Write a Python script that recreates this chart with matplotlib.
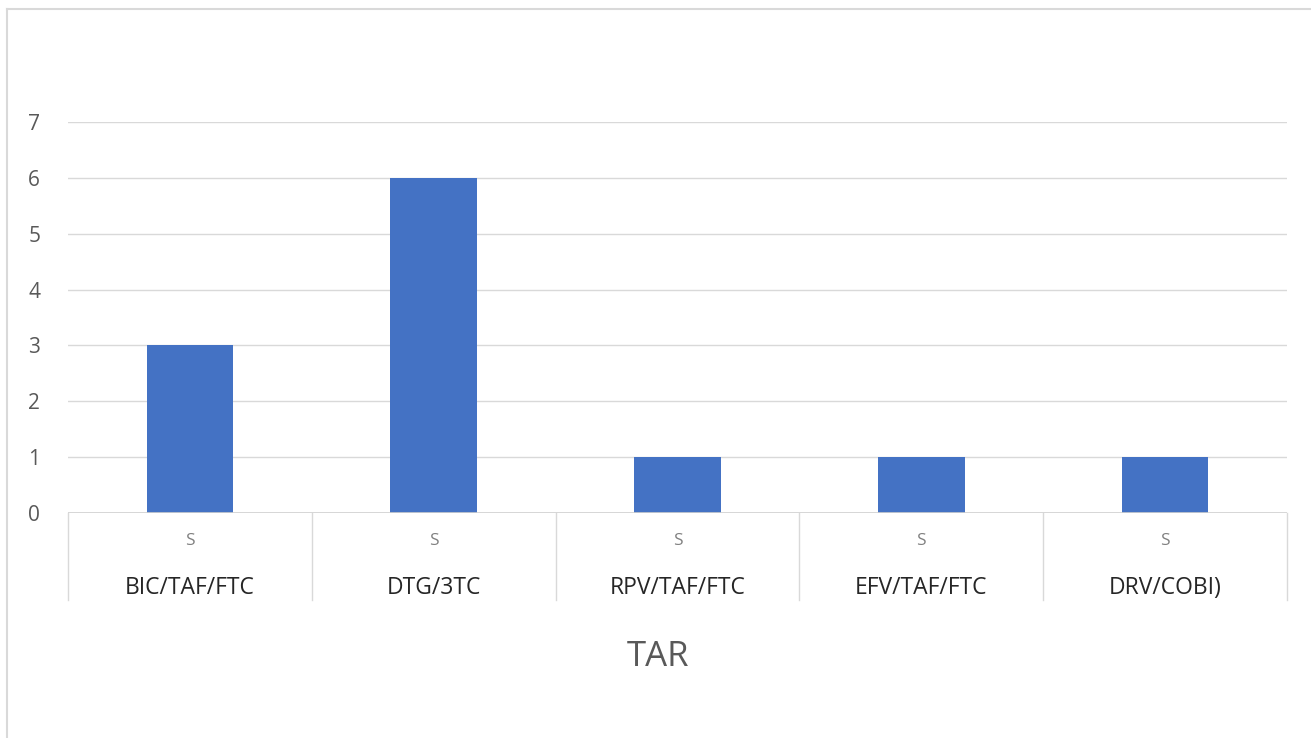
import matplotlib.pyplot as plt
import matplotlib.transforms as mtransforms
from matplotlib.lines import Line2D

# chart data
categories = ['BIC/TAF/FTC', 'DTG/3TC', 'RPV/TAF/FTC', 'EFV/TAF/FTC', 'DRV/COBI)']
sub_labels = ['S', 'S', 'S', 'S', 'S']
values = [3, 6, 1, 1, 1]
y_ticks = [0, 1, 2, 3, 4, 5, 6, 7]
axis_title = 'TAR'

W, H = 1311, 738
plt.rcParams['font.family'] = ['Open Sans', 'DejaVu Sans']

fig = plt.figure(figsize=(W / 100, H / 100), dpi=100)
fig.patch.set_facecolor('white')

# outer frame (only top and left edges show in the reference)
fig.add_artist(Line2D([7 / W, 7 / W], [0, 1 - 9 / H], color='#d9d9d9', lw=1.5))
fig.add_artist(Line2D([7 / W, 1], [1 - 9 / H, 1 - 9 / H], color='#d9d9d9', lw=1.5))

left, right = 68 / W, 1287 / W
bottom, top = 1 - 513 / H, 1 - 122 / H
ax = fig.add_axes([left, bottom, right - left, top - bottom])

x = list(range(len(categories)))
ax.bar(x, values, width=0.355, color='#4472c4', zorder=3)

ax.set_xlim(-0.5, len(categories) - 0.5)
ax.set_ylim(0, 7)
ax.set_yticks(y_ticks)
ax.set_yticklabels([str(t) for t in y_ticks])
ax.tick_params(axis='y', length=0, pad=20, labelsize=15, labelcolor='#595959')
ax.set_xticks([])

for t in y_ticks[1:]:
    ax.axhline(t, color='#d9d9d9', lw=1, zorder=1)
ax.axhline(0, color='#d0d0d0', lw=1.2, zorder=4)

for s in ax.spines.values():
    s.set_visible(False)

# two-level category axis below the plot
trans = mtransforms.blended_transform_factory(ax.transData, ax.transAxes)
sep_bottom = -87 / 391
for i in range(len(categories) + 1):
    ax.add_line(Line2D([i - 0.5, i - 0.5], [0, sep_bottom], transform=trans,
                       color='#d9d9d9', lw=1, clip_on=False))
for i, (sub, cat) in enumerate(zip(sub_labels, categories)):
    ax.text(i, -28 / 391, sub, transform=trans, ha='center', va='center',
            fontsize=12.5, color='#808080')
    ax.text(i, -75 / 391, cat, transform=trans, ha='center', va='center',
            fontsize=16.5, color='#262626')

fig.text(658 / W, 1 - 657 / H, axis_title, ha='center', va='center',
         fontsize=25, color='#595959')

fig.savefig('out.png', dpi=100, facecolor='white')
